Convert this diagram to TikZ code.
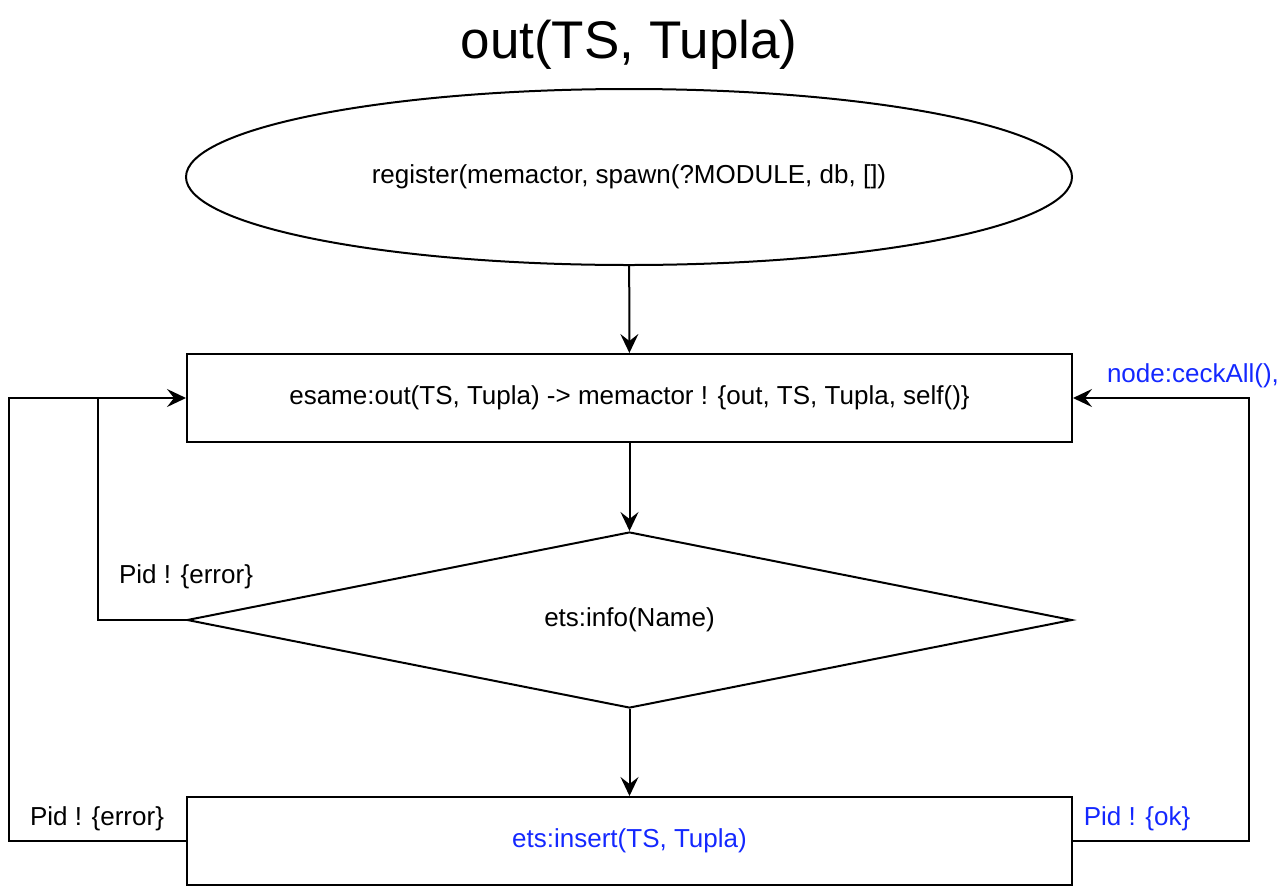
\documentclass[tikz,border=0pt]{standalone}
\usepackage{fontspec}
\setmainfont{Liberation Sans}
\usetikzlibrary{shapes.geometric,arrows.meta}
\definecolor{lblue}{RGB}{20,40,255}
\begin{document}
\begin{tikzpicture}[x=1pt,y=-1pt,line width=2pt,
  txt/.style={font=\fontsize{26}{30}\selectfont},
  box/.style={draw,txt,minimum width=885pt,minimum height=88pt,inner sep=0pt},
  ell/.style={draw,txt,ellipse,minimum width=886pt,minimum height=176pt,inner sep=0pt},
  dia/.style={draw,txt,diamond,aspect=5,minimum width=885pt,minimum height=176pt,inner sep=0pt},
  lbl/.style={txt,inner sep=0pt},
  arr/.style={-{Stealth[length=19pt,width=18pt,inset=7pt]}}]
\useasboundingbox (0,0) rectangle (1284,892);
\node[font=\fontsize{53}{60}\selectfont] (title) at (629,45) {out(TS, Tupla)};
\node[ell] (reg) at (629,177) {register(memactor, spawn(?MODULE, db, [])};
\node[box] (esame) at (629.5,398) {esame:out(TS, Tupla) -> memactor ! \{out, TS, Tupla, self()\}};
\node[dia] (info) at (629.5,620) {ets:info(Name)};
\node[box] (ins) at (629.5,841) {\textcolor{lblue}{ets:insert(TS, Tupla)}};
\coordinate (j) at (98,398);
\draw[arr] (reg) -- (esame);
\draw[arr] (esame) -- (info);
\draw[arr] (info) -- (ins);
\draw[arr] (ins.west) -- ++(-177,0) |- (esame.west);
\draw (info.west) -| (j);
\draw[arr] (ins.east) -- ++(176,0) |- (esame.east);
\node[lbl] (l1) at (186,577) {Pid ! \{error\}};
\node[lbl] (l2) at (97,819) {Pid ! \{error\}};
\node[lbl,text=lblue] (l3) at (1137,819) {Pid ! \{ok\}};
\node[lbl,text=lblue] (l4) at (1193,376) {node:ceckAll(),};
\end{tikzpicture}
\end{document}
